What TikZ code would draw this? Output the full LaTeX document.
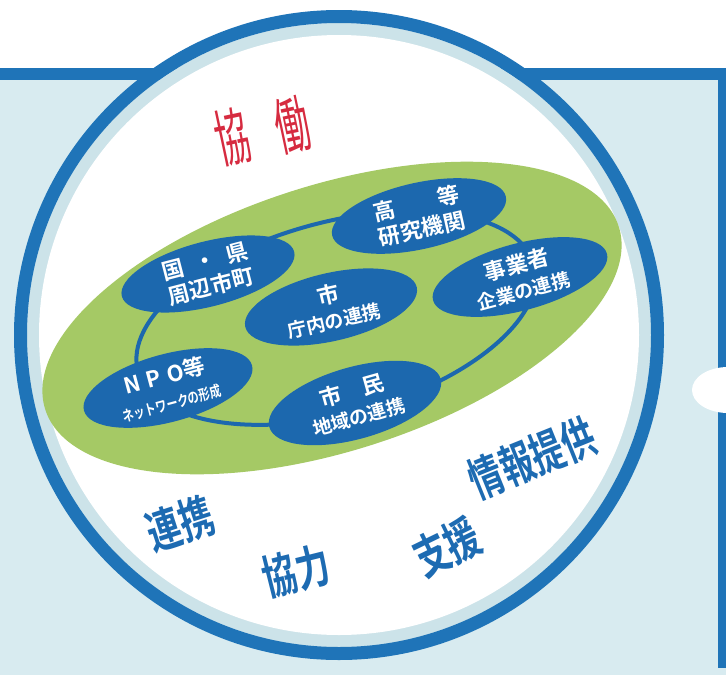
\documentclass[tikz,border=0pt]{standalone}
\usepackage{fontspec}
\setmainfont{Noto Sans CJK JP}[BoldFont={Noto Sans CJK JP Bold}]
\usepackage{xcolor}
\usetikzlibrary{shapes,arrows,positioning,fit}

\definecolor{ringblue}{HTML}{1F74B8}
\definecolor{nodeblue}{HTML}{1C68AE}
\definecolor{paleblue}{HTML}{D8EBF0}
\definecolor{bandblue}{HTML}{CCE3E9}
\definecolor{leafgreen}{HTML}{A5C965}
\definecolor{kyored}{HTML}{D62B40}
\definecolor{labelblue}{HTML}{1D6BB2}

\newcommand{\subrow}{\fontsize{19pt}{24pt}\selectfont}
\newcommand{\tinyrow}{\fontsize{15pt}{18pt}\selectfont}

\begin{document}
\begin{tikzpicture}[x=1pt, y=-1pt]
    \tikzstyle{group} = [ellipse, fill=nodeblue, text=white, inner sep=0pt, minimum width=178pt, minimum height=66pt, align=center, font=\bfseries\fontsize{22pt}{26pt}\selectfont]
    \tikzstyle{keyword} = [text=labelblue, inner sep=0pt, font=\bfseries\fontsize{47pt}{47pt}\selectfont]
    \useasboundingbox (0,0) rectangle (726,675);

    % Panel
    \fill[paleblue] (0,74) rectangle (726,675);
    \draw[ringblue, line width=12pt] (0,74) -- (726,74);
    \draw[ringblue, line width=8pt] (722,68) -- (722,668);
    \fill[white] (728,390) ellipse (36pt and 23pt);

    % Big circle
    \coordinate (centre) at (339,335);
    \fill[bandblue] (centre) circle (312pt);
    \fill[white] (centre) circle (300pt);
    \draw[ringblue, line width=13pt] (centre) circle (318.5pt);

    % Green field
    \node[ellipse, fill=leafgreen, inner sep=0pt, minimum width=602pt, minimum height=266pt, rotate=17.7] (field) at (332,318) {};

    % Link ring
    \node[ellipse, draw=nodeblue, line width=4pt, inner sep=0pt, minimum width=410pt, minimum height=192pt, rotate=15] (link) at (336,318) {};

    % Research
    \node[group, rotate=12.6, minimum height=60pt] (research) at (419,216) {\makebox[4em][s]{高\hfill 等}\\研究機関};

    % Government
    \node[group, rotate=14.5, minimum height=64pt] (govt) at (208,274) {\makebox[4em][s]{国\hfill ・\hfill 県}\\周辺市町};

    % Business
    \node[group, rotate=15, minimum width=180pt, minimum height=67pt] (business) at (520,277) {事業者\\{\subrow 企業の連携}};

    % City
    \node[group, rotate=13, minimum width=176pt, minimum height=68pt] (city) at (331,307) {市\\{\subrow 庁内の連携}};

    % NPO
    \node[group, rotate=15, minimum width=174pt, minimum height=68pt] (npo) at (168,388) {N\hspace{.3em}P\hspace{.3em}O等\\{\tinyrow\scalebox{0.75}[1]{ネットワークの形成}}};

    % Citizens
    \node[group, rotate=15.7, minimum height=72pt] (citizens) at (355,403) {市\hspace{1em}民\\{\subrow 地域の連携}};

    % Keywords
    \node[text=kyored, inner sep=0pt, font=\fontsize{62pt}{62pt}\selectfont, rotate=12, xscale=0.55] (kyodo) at (262,131) {協\hspace{50pt}働};
    \node[keyword, rotate=18, xscale=0.72] (renkei) at (180,524) {連携};
    \node[keyword, rotate=14, xscale=0.72] (kyoryoku) at (296,571) {協力};
    \node[keyword, rotate=26, xscale=0.72] (shien) at (447,547) {支援};
    \node[keyword, rotate=22, xscale=0.70] (joho) at (532,458) {情報提供};
\end{tikzpicture}
\end{document}
